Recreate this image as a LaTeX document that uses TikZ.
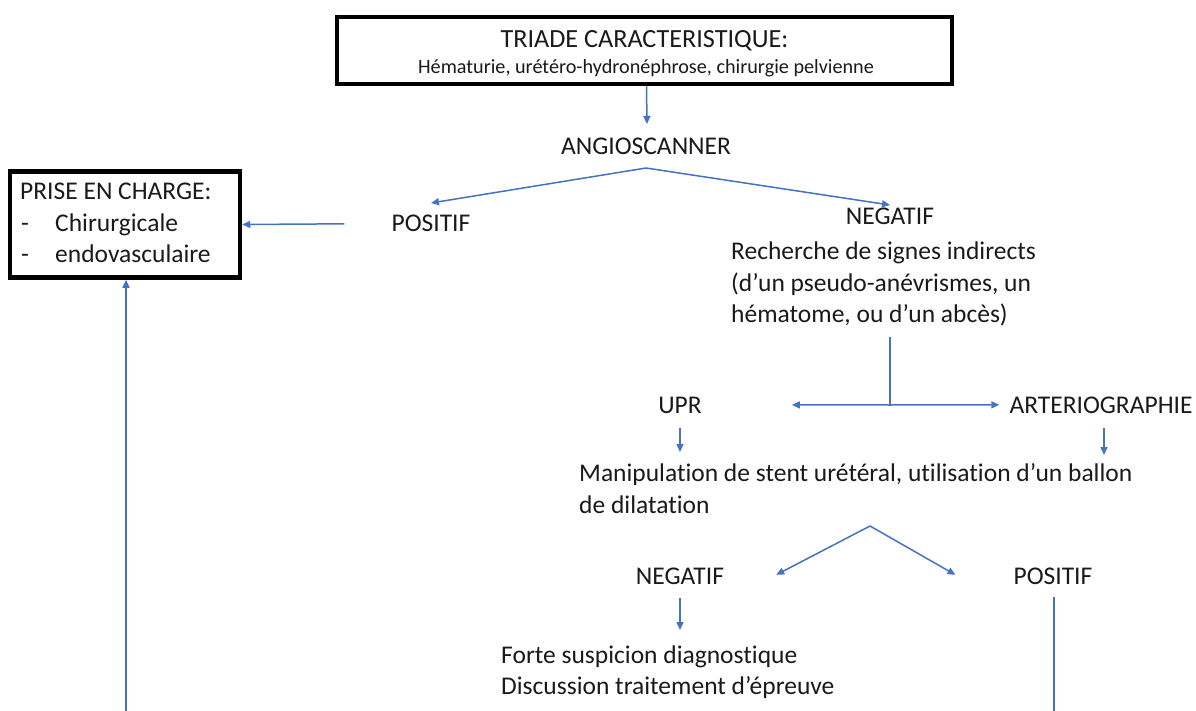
\documentclass[tikz,border=0pt]{standalone}
\usepackage{fontspec}
\setmainfont{Carlito}[Ligatures={NoCommon}]
\usetikzlibrary{arrows.meta,calc}
\definecolor{lineblue}{HTML}{4472C4}
\definecolor{ink}{HTML}{1A1A1A}
\begin{document}
\begin{tikzpicture}[x=1pt,y=-1pt,
  txt/.style={inner sep=0pt,text=ink,font=\fontsize{25.5}{31.5}\selectfont},
  sm/.style={inner sep=0pt,text=ink,font=\fontsize{20.2}{24}\selectfont},
  boxed/.style={draw=black,line width=4.5pt,inner sep=0pt},
  conn/.style={draw=lineblue,line width=1.5pt},
  arr/.style={conn,-{Triangle[length=8pt,width=7pt]}}]
\useasboundingbox[fill=white] (0,0) rectangle (1196,711);
% boxes
\node[boxed,minimum width=615pt,minimum height=67pt] (top) at (644.5,50.5) {};
\node[txt,font=\fontsize{26.2}{31.5}\selectfont,anchor=base] (t1) at (644.5,48) {TRIADE CARACTERISTIQUE:};
\node[sm,anchor=base] (t2) at (646,74) {Hématurie, urétéro-hydronéphrose, chirurgie pelvienne};
\node[boxed,minimum width=230pt,minimum height=106pt] (prise) at (125,224.5) {};
\node[txt,anchor=base west] (p1) at (20,200) {PRISE EN CHARGE:};
\node[txt,anchor=base west] (p2) at (21,232) {-};
\node[txt,anchor=base west] (p3) at (55,232) {Chirurgicale};
\node[txt,anchor=base west] (p4) at (21,263) {-};
\node[txt,anchor=base west] (p5) at (55,263) {endovasculaire};
% texts
\node[txt,anchor=base] (angio) at (646,155) {ANGIOSCANNER};
\node[txt,anchor=base] (posA) at (431,232) {POSITIF};
\node[txt,anchor=base] (negA) at (890,225) {NEGATIF};
\node[txt,anchor=base west] (r1) at (731,259) {Recherche de signes indirects};
\node[txt,anchor=base west] (r2) at (731,291) {(d’un pseudo-anévrismes, un};
\node[txt,anchor=base west] (r3) at (731,322) {hématome, ou d’un abcès)};
\node[txt,anchor=base] (upr) at (680,413) {UPR};
\node[txt,anchor=base] (art) at (1101,413) {ARTERIOGRAPHIE};
\node[txt,anchor=base west] (m1) at (579,481) {Manipulation de stent urétéral, utilisation d’un ballon};
\node[txt,anchor=base west] (m2) at (579,513) {de dilatation};
\node[txt,anchor=base] (negB) at (680,584) {NEGATIF};
\node[txt,anchor=base] (posB) at (1053,584) {POSITIF};
\node[txt,anchor=base west] (f1) at (501,663) {Forte suspicion diagnostique};
\node[txt,anchor=base west] (f2) at (501,694) {Discussion traitement d’épreuve};
% junctions and free ends
\coordinate (jA) at ($(angio.base)+(0,13)$);
\coordinate (jB) at ($(negA.base)+(0,180)$);
\coordinate (jC) at ($(m2.base west)+(291,13)$);
\coordinate (endR) at ($(posB.base)+(1,127)$);
\coordinate (endL) at ($(prise.south)+(1,711-279)$);
% connectors
\draw[arr] (top.south) ++(2,0) -- ($(angio.base)+(1,-31)$);
\draw[arr] (jA) -- ($(posA.base)+(0,-29)$);
\draw[arr] (jA) -- ($(negA.base)+(0,-20)$);
\draw[arr] ($(posA.west)+(-47,0)$) -- (prise.east);
\draw[conn] ($(negA.base)+(0,112)$) -- (jB);
\draw[arr] (jB) -- ($(upr.east)+(90,0)$);
\draw[arr] (jB) -- ($(art.west)+(-10,0)$);
\draw[arr] ($(upr.base)+(0,15)$) -- ($(upr.base)+(0,39)$);
\draw[arr] ($(art.base)+(3,15)$) -- ($(art.base)+(3,42)$);
\draw[arr] (jC) -- ($(negB.east)+(52,-1)$);
\draw[arr] (jC) -- ($(posB.west)+(-58,-1)$);
\draw[arr] ($(negB.base)+(0,14)$) -- ($(negB.base)+(0,46)$);
\draw[conn] ($(posB.base)+(1,13)$) -- (endR);
\draw[arr] (endL) -- ($(prise.south)+(1,0)$);
\end{tikzpicture}
\end{document}
